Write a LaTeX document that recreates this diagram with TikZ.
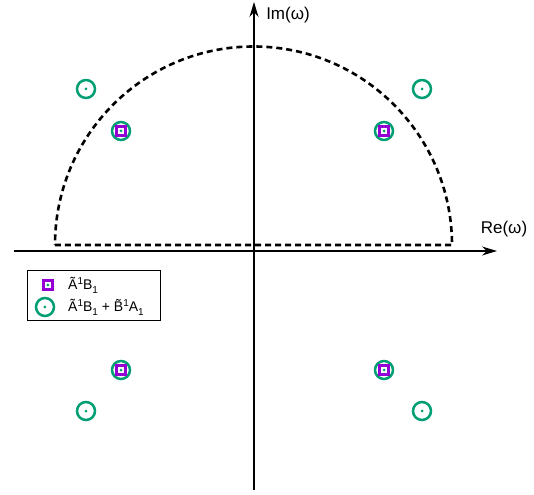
\documentclass[tikz,border=0pt]{standalone}
\usepackage{fontspec}
\setmainfont{Liberation Sans}
\usetikzlibrary{arrows.meta}
\definecolor{poleviolet}{RGB}{148,0,211}
\definecolor{polegreen}{RGB}{0,158,115}
\newcommand{\polesup}[1]{\raisebox{0.42em}{\fontsize{10}{10}\selectfont #1}}
\newcommand{\polesub}[1]{\raisebox{-0.28em}{\fontsize{10}{10}\selectfont #1}}

\begin{document}
\begin{tikzpicture}[x=1pt, y=1pt, >={Stealth[length=15pt,width=9pt]},
	axis/.style={line width=1.2pt, ->},
	contour/.style={line width=2.6pt, dash pattern=on 6pt off 4pt},
	pairpole/.style={circle, draw=polegreen, line width=2.5pt, minimum size=18pt, inner sep=0pt},
	singlepole/.style={rectangle, draw=poleviolet, line width=3pt, minimum size=9pt, inner sep=0pt},
	poledot/.style={circle, fill=polegreen, minimum size=3pt, inner sep=0pt},
	axislabel/.style={font=\fontsize{17}{20}\selectfont, inner sep=0pt},
	legendtext/.style={font=\fontsize{14}{16}\selectfont, anchor=base west, inner sep=0pt}]
	\useasboundingbox (-254,-243) rectangle (280,251);
	
	% Axes
	\coordinate (xl) at (-240, 0);
	\coordinate (xr) at (243, 0);
	\coordinate (yb) at (0, -239);
	\coordinate (yt) at (0, 249);
	\draw[axis] (xl) -- (xr);
	\draw[axis] (yb) -- (yt);
	\node[axislabel] (re) at (250, 22) {Re(ω)};
	\node[axislabel] (im) at (34, 236) {Im(ω)};
	
	% Closed contour in the upper half plane
	\coordinate (cl) at (-199, 6);
	\coordinate (cr) at (198, 6);
	\draw[contour] (cl) -- (cr) arc[start angle=0, end angle=180, radius=198.5];
	
	% Poles of both terms
	\node[pairpole] (p1) at (-168, 162) {};
	\node[pairpole] (p2) at (168, 162) {};
	\node[pairpole] (p3) at (-168, -160) {};
	\node[pairpole] (p4) at (168, -160) {};
	\node[pairpole] (p5) at (-133, 120) {};
	\node[pairpole] (p6) at (130, 120) {};
	\node[pairpole] (p7) at (-133, -119) {};
	\node[pairpole] (p8) at (130, -119) {};
	
	% Poles of the first term
	\node[singlepole] (s1) at (p5) {};
	\node[singlepole] (s2) at (p6) {};
	\node[singlepole] (s3) at (p7) {};
	\node[singlepole] (s4) at (p8) {};
	
	% Centre dots
	\foreach \p in {p1,p2,p3,p4,p5,p6,p7,p8}
		\node[poledot] at (\p) {};
	
	% Legend
	\draw[line width=0.8pt, fill=white] (-227, -19) rectangle (-94, -69);
	\node[singlepole] (ls) at (-206, -34) {};
	\node[poledot] at (ls) {};
	\node[legendtext] (lt1) at (-186, -39) {\~A\polesup{1}B\polesub{1}};
	\node[pairpole] (lc) at (-209, -56) {};
	\node[poledot] at (lc) {};
	\node[legendtext] (lt2) at (-186, -61) {\~A\polesup{1}B\polesub{1} + \~B\polesup{1}A\polesub{1}};
\end{tikzpicture}
\end{document}
